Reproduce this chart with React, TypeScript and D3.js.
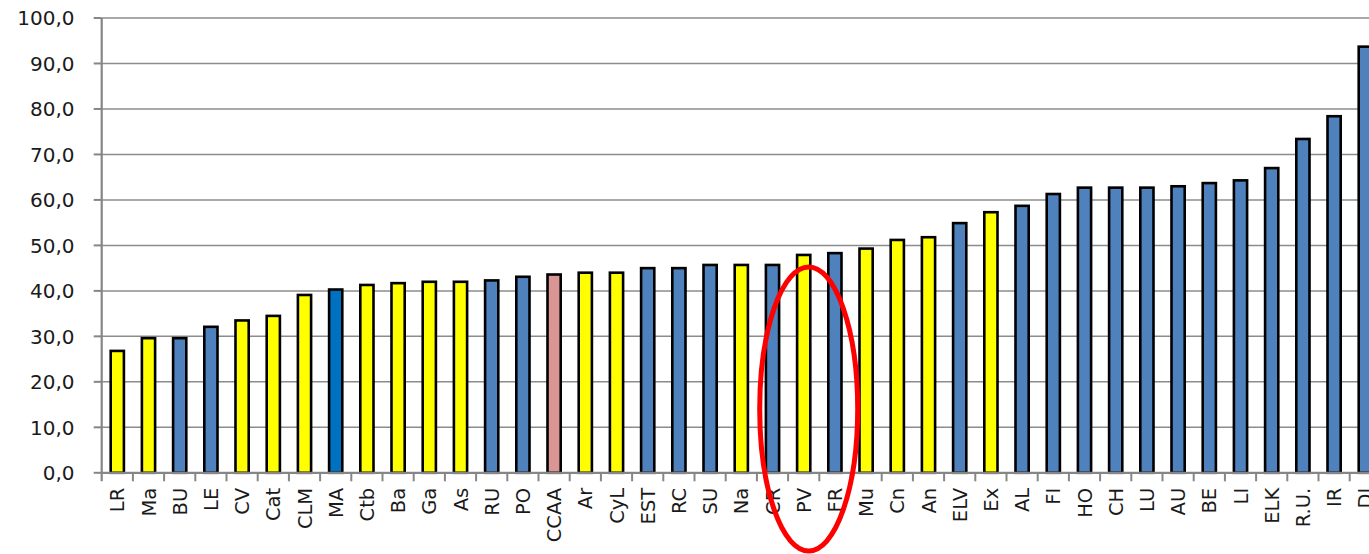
import React from 'react';
import * as d3 from 'd3';

const width = 1369;
const height = 554;
const margin = { top: 18, left: 101.7, bottom: 81.2 };

// region codes, left to right
const categories = [
  'LR', 'Ma', 'BU', 'LE', 'CV', 'Cat', 'CLM', 'MA', 'Ctb', 'Ba', 'Ga', 'As', 'RU', 'PO',
  'CCAA', 'Ar', 'CyL', 'EST', 'RC', 'SU', 'Na', 'CR', 'PV', 'FR', 'Mu', 'Cn', 'An', 'ELV',
  'Ex', 'AL', 'FI', 'HO', 'CH', 'LU', 'AU', 'BE', 'LI', 'ELK', 'R.U.', 'IR', 'DI',
];

const values = [
  26.8, 29.6, 29.6, 32.1, 33.5, 34.5, 39.1, 40.3, 41.3, 41.7, 42.0, 42.0, 42.3, 43.1,
  43.6, 44.0, 44.0, 45.0, 45.0, 45.7, 45.7, 45.7, 47.9, 48.3, 49.3, 51.2, 51.8, 54.9,
  57.3, 58.7, 61.3, 62.7, 62.7, 62.7, 63.0, 63.7, 64.3, 67.0, 73.4, 78.4, 93.7,
];

// c = comunidad autónoma, p = país, m = media, a = media CCAA
const groups = [
  'c', 'c', 'p', 'p', 'c', 'c', 'c', 'm', 'c', 'c', 'c', 'c', 'p', 'p',
  'a', 'c', 'c', 'p', 'p', 'p', 'c', 'p', 'c', 'p', 'c', 'c', 'c', 'p',
  'c', 'p', 'p', 'p', 'p', 'p', 'p', 'p', 'p', 'p', 'p', 'p', 'p',
];

const yTicks = [0, 10, 20, 30, 40, 50, 60, 70, 80, 90, 100];
const highlighted = 'PV';

const fills: Record<string, string> = {
  c: '#FFFF00',
  p: '#4F81BD',
  m: '#0070C0',
  a: '#D99694',
};

const font = '"DejaVu Sans", Verdana, sans-serif';

export default function App() {
  const x = d3.scaleBand<string>()
    .domain(categories)
    .range([margin.left, margin.left + categories.length * 31.2])
    .padding(0);

  const y = d3.scaleLinear()
    .domain([0, 100])
    .range([height - margin.bottom, margin.top]);

  const step = x.step();
  const barW = 13.2;
  const y0 = y(0);
  const fmt = (v: number) => v.toFixed(1).replace('.', ',');

  const cx = (x(highlighted) ?? 0) + step / 2;

  return (
    <svg
      width={width}
      height={height}
      style={{ position: 'absolute', left: 0, top: 0, background: '#fff' }}
    >
      {/* gridlines */}
      {yTicks.filter(t => t > 0).map(t => (
        <line key={'g' + t} x1={margin.left} x2={width} y1={y(t)} y2={y(t)}
          stroke="#8C8C8C" strokeWidth={1.5} />
      ))}

      {/* y axis */}
      <line x1={margin.left} x2={margin.left} y1={y(100)} y2={y0 + 8.5}
        stroke="#868686" strokeWidth={2.2} />
      {yTicks.map(t => (
        <g key={'y' + t}>
          <line x1={margin.left - 8} x2={margin.left} y1={y(t)} y2={y(t)}
            stroke="#868686" strokeWidth={2} />
          <text x={74.5} y={y(t)} dy="0.36em" textAnchor="end"
            fontFamily={font} fontSize={20} fill="#1A1A1A">{fmt(t)}</text>
        </g>
      ))}

      {/* bars */}
      {categories.map((c, i) => (
        <rect key={'b' + c}
          x={(x(c) ?? 0) + (step - barW) / 2}
          y={y(values[i])}
          width={barW}
          height={y0 - y(values[i])}
          fill={fills[groups[i]]}
          stroke="#000"
          strokeWidth={2.6} />
      ))}

      {/* x axis */}
      <line x1={margin.left} x2={width} y1={y0} y2={y0} stroke="#868686" strokeWidth={2.2} />
      {categories.map(c => (
        <line key={'t' + c} x1={(x(c) ?? 0) + step} x2={(x(c) ?? 0) + step} y1={y0} y2={y0 + 8.5}
          stroke="#868686" strokeWidth={2} />
      ))}
      {categories.map(c => {
        const lx = (x(c) ?? 0) + step / 2;
        const ly = y0 + 15;
        return (
          <text key={'l' + c} transform={`translate(${lx},${ly}) rotate(-90)`}
            dy="0.36em" textAnchor="end" fontFamily={font} fontSize={19.5} fill="#1A1A1A">
            {c}
          </text>
        );
      })}

      {/* red annotation ellipse */}
      <ellipse cx={cx + 5} cy={409} rx={49} ry={142}
        fill="none" stroke="#FF0000" strokeWidth={5} />
    </svg>
  );
}
